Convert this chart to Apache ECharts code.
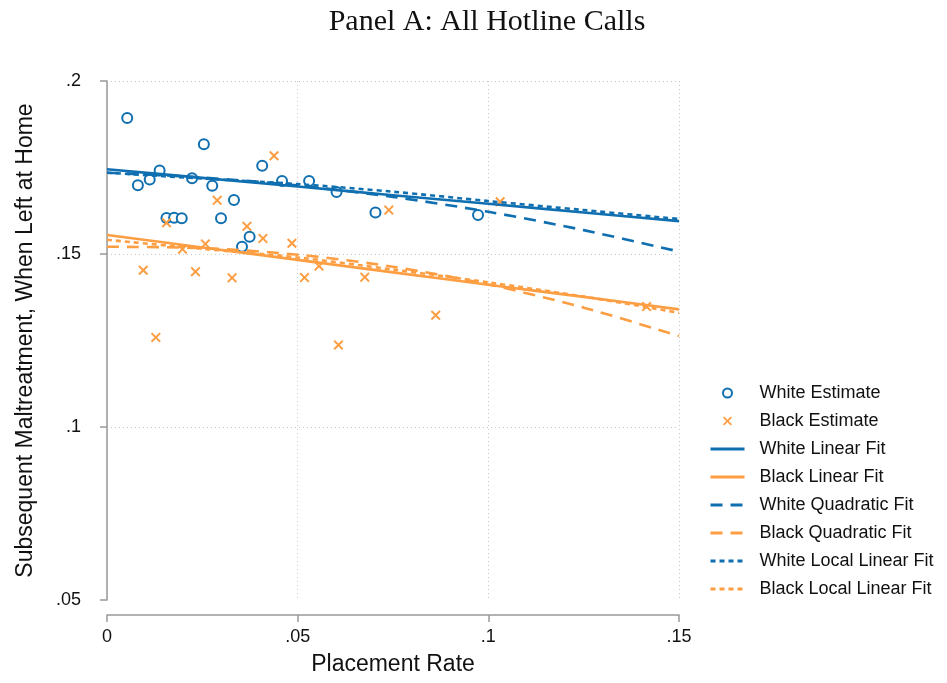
<!DOCTYPE html>
<html>
<head>
<meta charset="utf-8">
<script src="https://cdn.jsdelivr.net/npm/echarts@6/dist/echarts.min.js"></script>
<style>
  html, body { margin: 0; padding: 0; background: #fff; }
  #chart { width: 947px; height: 683px; }
</style>
</head>
<body>
<div id="chart"></div>
<script>
// estimates
var whiteX = [0.0053, 0.0081, 0.0112, 0.0138, 0.0156, 0.0176, 0.0196, 0.0223, 0.0254, 0.0276, 0.0299, 0.0333, 0.0354, 0.0374, 0.0407, 0.0459, 0.0530, 0.0602, 0.0704, 0.0973];
var whiteY = [0.1893, 0.1699, 0.1715, 0.1741, 0.1604, 0.1605, 0.1603, 0.1719, 0.1817, 0.1697, 0.1603, 0.1656, 0.1521, 0.1550, 0.1755, 0.1711, 0.1711, 0.1679, 0.1620, 0.1613];
var blackX = [0.0095, 0.0128, 0.0156, 0.0198, 0.0232, 0.0258, 0.0289, 0.0328, 0.0367, 0.0409, 0.0438, 0.0485, 0.0518, 0.0556, 0.0607, 0.0676, 0.0739, 0.0862, 0.1031, 0.1415];
var blackY = [0.1453, 0.1259, 0.1590, 0.1514, 0.1449, 0.1529, 0.1655, 0.1431, 0.1580, 0.1545, 0.1784, 0.1531, 0.1432, 0.1465, 0.1237, 0.1433, 0.1627, 0.1323, 0.1651, 0.1348];

// fitted lines, read at these x values
var fitX = [0, 0.025, 0.05, 0.075, 0.1, 0.125, 0.15];
var whiteLinear = [0.1745, 0.1720, 0.1695, 0.1670, 0.1645, 0.1620, 0.1595];
var blackLinear = [0.1555, 0.1519, 0.1483, 0.1447, 0.1411, 0.1376, 0.1340];
var whiteQuad = [0.1735, 0.1721, 0.1698, 0.1665, 0.1622, 0.1569, 0.1507];
var blackQuad = [0.1521, 0.1517, 0.1498, 0.1463, 0.1412, 0.1345, 0.1263];
var whiteLocal = [0.1735, 0.1718, 0.1702, 0.1680, 0.1653, 0.1627, 0.1601];
var blackLocal = [0.1541, 0.1515, 0.1490, 0.1455, 0.1418, 0.1377, 0.1330];

var blue = '#0f6fb0';
var orange = '#fd9e43';
var crossIcon = 'path://M0,1.4L1.4,0L5,3.6L8.6,0L10,1.4L6.4,5L10,8.6L8.6,10L5,6.4L1.4,10L0,8.6L3.6,5Z';
var sans = 'Liberation Sans';

function pairs(xs, ys) {
    return xs.map(function (x, i) { return [x, ys[i]]; });
}
function tickText(v) {
    var s = String(Number(v.toFixed(3)));
    return s === '0' ? '0' : s.replace(/^0/, '');
}

var myChart = echarts.init(document.getElementById('chart'));

function fitLine(name, data, color, dash) {
    return {
        name: name,
        type: 'line',
        data: data,
        smooth: 0.3,
        symbol: 'none',
        lineStyle: { color: color, width: 2.6, type: dash },
        itemStyle: { color: color },
        emphasis: { disabled: true }
    };
}

var fitNames = ['White Linear Fit', 'Black Linear Fit', 'White Quadratic Fit', 'Black Quadratic Fit',
                'White Local Linear Fit', 'Black Local Linear Fit'];

var option = {
    backgroundColor: '#fff',
    animation: false,
    title: {
        text: 'Panel A: All Hotline Calls',
        left: 482,
        textAlign: 'center',
        top: 2,
        textStyle: { fontFamily: 'Liberation Serif', fontWeight: 'normal', fontSize: 30, color: '#111' }
    },
    grid: { left: 107, right: 268, top: 81, bottom: 83 },
    legend: {
        orient: 'vertical',
        left: 704,
        top: 379,
        itemWidth: 34,
        itemHeight: 9,
        itemGap: 10,
        selectedMode: false,
        textStyle: { fontFamily: sans, fontSize: 18, color: '#111', lineHeight: 18, padding: [0, 0, 0, 10] },
        data: [{ name: 'White Estimate' }, { name: 'Black Estimate' }].concat(fitNames.map(function (n) {
            return { name: n, itemStyle: { opacity: 0 }, lineStyle: { width: 3 } };
        }))
    },
    xAxis: {
        type: 'value',
        min: 0,
        max: 0.15,
        interval: 0.05,
        offset: 15,
        name: 'Placement Rate',
        nameLocation: 'middle',
        nameGap: 38,
        nameTextStyle: { fontFamily: sans, fontSize: 23, color: '#111' },
        axisLine: { lineStyle: { color: '#999', width: 1.5 } },
        axisTick: { length: 7, lineStyle: { color: '#999', width: 1.5 } },
        axisLabel: { margin: 13, fontFamily: sans, fontSize: 18, color: '#111', formatter: tickText },
        splitLine: { show: true, lineStyle: { color: '#c8c8c8', type: [1, 3], width: 1 } }
    },
    yAxis: {
        type: 'value',
        min: 0.05,
        max: 0.2,
        interval: 0.05,
        offset: 12,
        name: 'Subsequent Maltreatment, When Left at Home',
        nameLocation: 'middle',
        nameGap: 58,
        nameTextStyle: { fontFamily: sans, fontSize: 23, color: '#111' },
        axisLine: { show: true, lineStyle: { color: '#999', width: 1.5 } },
        axisTick: { show: true, length: 7, lineStyle: { color: '#999', width: 1.5 } },
        axisLabel: { margin: 14, fontFamily: sans, fontSize: 18, color: '#111', formatter: tickText },
        splitLine: { show: true, showMinLine: false, lineStyle: { color: '#c8c8c8', type: [1, 3], width: 1 } }
    },
    series: [
        {
            name: 'White Estimate',
            type: 'scatter',
            data: pairs(whiteX, whiteY),
            symbol: 'emptyCircle',
            symbolSize: 10,
            itemStyle: { color: blue, borderColor: blue, borderWidth: 2.4, opacity: 1 }
        },
        {
            name: 'Black Estimate',
            type: 'scatter',
            data: pairs(blackX, blackY),
            symbol: crossIcon,
            symbolSize: 10,
            itemStyle: { color: orange, opacity: 1 }
        },
        fitLine(fitNames[0], pairs(fitX, whiteLinear), blue, 'solid'),
        fitLine(fitNames[1], pairs(fitX, blackLinear), orange, 'solid'),
        fitLine(fitNames[2], pairs(fitX, whiteQuad), blue, [12, 8]),
        fitLine(fitNames[3], pairs(fitX, blackQuad), orange, [12, 8]),
        fitLine(fitNames[4], pairs(fitX, whiteLocal), blue, [5, 4]),
        fitLine(fitNames[5], pairs(fitX, blackLocal), orange, [5, 4])
    ]
};

myChart.setOption(option);
</script>
</body>
</html>
